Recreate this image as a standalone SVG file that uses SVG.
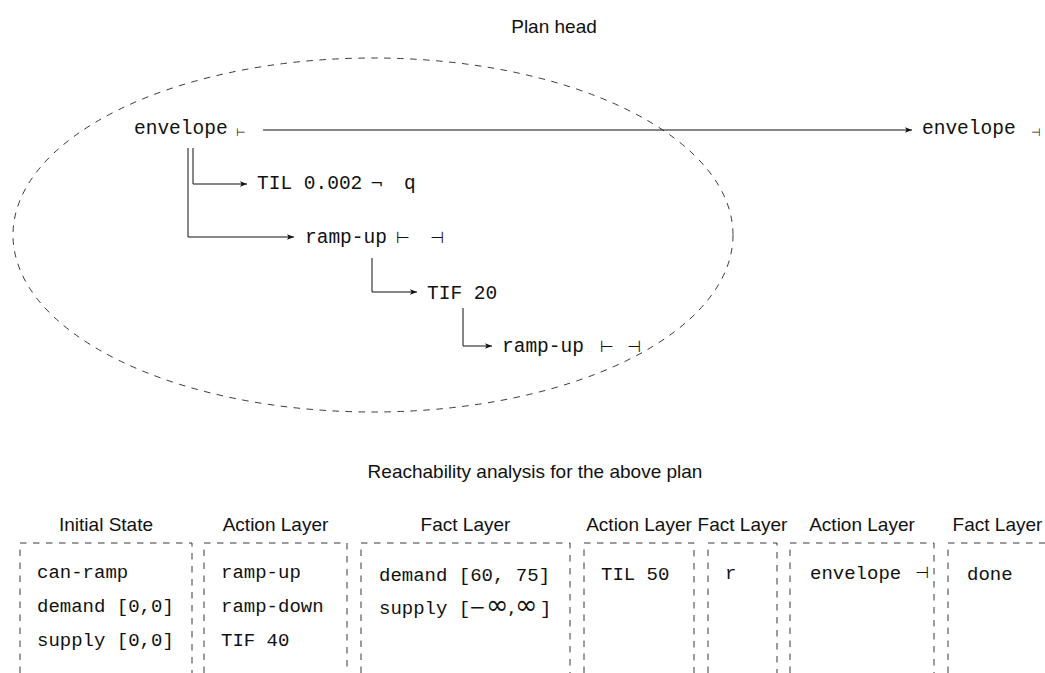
<svg xmlns="http://www.w3.org/2000/svg" width="1045" height="673" viewBox="0 0 1045 673">
<defs>
<style>
.sans{font-family:"Liberation Sans","DejaVu Sans",sans-serif;font-size:19px;fill:#111}
.mono{font-family:"Liberation Mono","DejaVu Sans Mono",monospace;font-size:19px;fill:#111}
.top{font-size:19.5px}
.sym{font-family:"DejaVu Sans","Liberation Sans",sans-serif;font-size:16px;fill:#111}
.sm{font-size:11px}
.math{font-family:"DejaVu Sans","Liberation Serif",serif;font-size:20px;fill:#111}
.inf{font-size:27px}
.conn{fill:none;stroke:#111;stroke-width:1}
.dash{fill:none;stroke:#222;stroke-width:0.9;stroke-dasharray:6.5 6.5}
</style>
<marker id="arr" markerUnits="userSpaceOnUse" markerWidth="10" markerHeight="8" refX="7" refY="4" orient="auto">
<path d="M0,1.2 L7,4 L0,6.8 L1.6,4 z" fill="#111"/>
</marker>
</defs>
<rect width="1045" height="673" fill="#fff"/>

<text class="sans" x="554" y="33" text-anchor="middle" font-size="20">Plan head</text>

<ellipse class="dash" cx="373" cy="235" rx="360" ry="177"/>

<g id="connectors">
<path class="conn" d="M263,130 H912" marker-end="url(#arr)"/>
<path class="conn" d="M193,148 V184 H247" marker-end="url(#arr)"/>
<path class="conn" d="M188,148 V237 H294" marker-end="url(#arr)"/>
<path class="conn" d="M372,258 V292 H417" marker-end="url(#arr)"/>
<path class="conn" d="M463,308 V346 H492" marker-end="url(#arr)"/>
</g>

<g id="node-envelope-start">
<text class="mono top" x="134" y="134">envelope</text>
<text class="sym sm" x="236" y="136">⊢</text>
</g>
<g id="node-envelope-end">
<text class="mono top" x="922" y="134">envelope</text>
<text class="sym sm" x="1031" y="136">⊣</text>
</g>
<g id="node-til">
<text class="mono top" x="257" y="189">TIL 0.002</text>
<text class="sym" x="370" y="189">¬</text>
<text class="mono top" x="404" y="189">q</text>
</g>
<g id="node-rampup1">
<text class="mono top" x="305" y="243">ramp-up</text>
<text class="sym" x="396" y="243">⊢</text>
<text class="sym" x="430" y="243">⊣</text>
</g>
<g id="node-tif">
<text class="mono top" x="427" y="299">TIF 20</text>
</g>
<g id="node-rampup2">
<text class="mono top" x="502" y="352">ramp-up</text>
<text class="sym" x="600" y="352">⊢</text>
<text class="sym" x="627" y="352">⊣</text>
</g>

<text class="sans" x="535" y="478" text-anchor="middle">Reachability analysis for the above plan</text>

<g id="col-initial">
<text class="sans" x="106" y="531" text-anchor="middle">Initial State</text>
<path class="dash" d="M20,673 V543 H192 V673"/>
<text class="mono" x="37" y="578">can-ramp</text>
<text class="mono" x="37" y="612">demand [0,0]</text>
<text class="mono" x="37" y="646">supply [0,0]</text>
</g>
<g id="col-action1">
<text class="sans" x="275.5" y="531" text-anchor="middle">Action Layer</text>
<path class="dash" d="M204,673 V543 H347 V673"/>
<text class="mono" x="221" y="578">ramp-up</text>
<text class="mono" x="221" y="612">ramp-down</text>
<text class="mono" x="221" y="646">TIF 40</text>
</g>
<g id="col-fact1">
<text class="sans" x="465.5" y="531" text-anchor="middle">Fact Layer</text>
<path class="dash" d="M361,673 V543 H570 V673"/>
<text class="mono" x="379" y="581">demand [60, 75]</text>
<text class="mono" x="379" y="614">supply [</text>
<text class="math" x="469" y="614">−</text>
<text class="math inf" x="486" y="614">∞</text>
<text class="math" x="508" y="614">,</text>
<text class="math inf" x="515" y="614">∞</text>
<text class="mono" x="540" y="614">]</text>
</g>
<g id="col-action2">
<text class="sans" x="639" y="531" text-anchor="middle">Action Layer</text>
<path class="dash" d="M584,673 V543 H694 V673"/>
<text class="mono" x="601" y="580">TIL 50</text>
</g>
<g id="col-fact2">
<text class="sans" x="742.5" y="531" text-anchor="middle">Fact Layer</text>
<path class="dash" d="M708,673 V543 H777 V673"/>
<text class="mono" x="725" y="579">r</text>
</g>
<g id="col-action3">
<text class="sans" x="862" y="531" text-anchor="middle">Action Layer</text>
<path class="dash" d="M790,673 V543 H934 V673"/>
<text class="mono" x="810" y="579">envelope</text>
<text class="sym" x="915" y="578" font-size="14">⊣</text>
</g>
<g id="col-fact3">
<text class="sans" x="997.5" y="531" text-anchor="middle">Fact Layer</text>
<path class="dash" d="M948,673 V543 H1047 V673"/>
<text class="mono" x="967" y="580">done</text>
</g>
</svg>
